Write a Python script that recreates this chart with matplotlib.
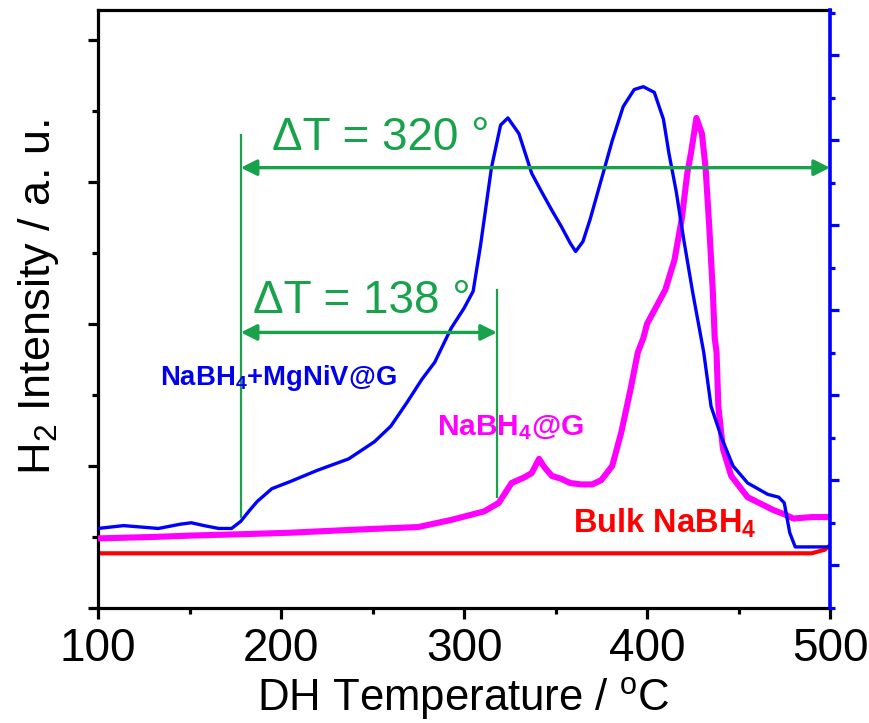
import matplotlib
matplotlib.use("Agg")
import matplotlib.pyplot as plt
from matplotlib.ticker import MultipleLocator, NullFormatter

plt.rcParams['font.family'] = ['Liberation Sans', 'DejaVu Sans']
plt.rcParams['mathtext.fontset'] = 'custom'
plt.rcParams['mathtext.rm'] = 'Liberation Sans'
plt.rcParams['mathtext.it'] = 'Liberation Sans:italic'
plt.rcParams['mathtext.bf'] = 'Liberation Sans:bold'
plt.rcParams['mathtext.default'] = 'regular'

# ---------------- data ----------------
blue_x = [100, 114, 133, 145, 151, 158, 166, 173, 178, 183, 187, 195, 205, 220, 237,
          251, 260, 269, 277, 284, 293, 300, 305, 309, 315, 320, 324, 330, 337, 342,
          348, 353, 358, 361, 365, 369, 376, 381, 387, 393, 398, 404, 409, 412, 416,
          420, 425, 431, 435, 441, 447, 455, 466, 472, 475, 478, 481, 490, 500]
blue_y = [0.56, 0.58, 0.56, 0.59, 0.60, 0.58, 0.56, 0.56, 0.61, 0.69, 0.75, 0.84, 0.89, 0.97, 1.05,
          1.17, 1.28, 1.45, 1.61, 1.73, 1.97, 2.11, 2.23, 2.55, 3.10, 3.40, 3.45, 3.34, 3.06, 2.94,
          2.80, 2.69, 2.57, 2.51, 2.58, 2.74, 3.06, 3.29, 3.53, 3.65, 3.67, 3.63, 3.44, 3.20, 2.93,
          2.60, 2.22, 1.80, 1.42, 1.19, 1.00, 0.88, 0.80, 0.78, 0.74, 0.53, 0.43, 0.43, 0.43]

mag_x = [100, 130, 151, 180, 205, 238, 275, 293, 311, 319, 326, 333, 337, 341, 344,
         348, 353, 358, 364, 370, 375, 381, 386, 391, 395, 398, 400, 405, 410, 415,
         419, 422, 424, 427, 430, 432, 434, 436, 437, 438, 439, 441.5, 446, 455, 469,
         475, 480, 490, 500]
mag_y = [0.49, 0.50, 0.51, 0.52, 0.53, 0.55, 0.57, 0.62, 0.68, 0.74, 0.88, 0.92, 0.95, 1.05, 0.99,
         0.93, 0.91, 0.88, 0.87, 0.87, 0.90, 1.00, 1.24, 1.54, 1.80, 1.90, 2.00, 2.12, 2.24, 2.45,
         2.74, 3.06, 3.20, 3.45, 3.34, 3.10, 2.69, 2.22, 1.90, 1.80, 1.42, 1.12, 0.93, 0.78, 0.69,
         0.66, 0.63, 0.64, 0.64]

red_x = [100, 490, 497, 500]
red_y = [0.385, 0.385, 0.41, 0.44]

x_ticks = [100, 200, 300, 400, 500]
onset_all = 178
onset_nabh4g = 318
end_all = 500

label_blue = "NaBH$_4$+MgNiV@G"
label_mag = "NaBH$_4$@G"
label_red = "Bulk NaBH$_4$"
dt_big = "ΔT = 320 °"
dt_small = "ΔT = 138 °"

# ---------------- figure ----------------
fig = plt.figure(figsize=(8.69, 7.23), dpi=100)
ax = fig.add_axes([98/869, (723-608)/723, 732/869, 598/723])

green = '#17a24b'
ax.plot(red_x, red_y, color='#ff0000', lw=3.0, zorder=2, solid_capstyle='butt')
ax.plot(mag_x, mag_y, color='#ff00ff', lw=4.4, zorder=3)
ax.plot(blue_x, blue_y, color='#0000ff', lw=2.4, zorder=4)

ax.set_xlim(100, 500)
ax.set_ylim(0, 4.21)

# green annotations
ax.plot([onset_all, onset_all], [0.64, 3.33], color=green, lw=1.6, zorder=5)
ax.plot([onset_nabh4g, onset_nabh4g], [0.78, 2.24], color=green, lw=1.6, zorder=5)
ax.annotate('', xy=(onset_all, 3.10), xytext=(end_all, 3.10),
            arrowprops=dict(arrowstyle='<|-|>', color=green, lw=2.4,
                            mutation_scale=24, shrinkA=0, shrinkB=0), zorder=6)
ax.annotate('', xy=(onset_all, 1.94), xytext=(onset_nabh4g, 1.94),
            arrowprops=dict(arrowstyle='<|-|>', color=green, lw=2.4,
                            mutation_scale=24, shrinkA=0, shrinkB=0), zorder=6)
ax.text(195, 3.225, dt_big, color=green, fontsize=33, va='baseline', ha='left', zorder=7)
ax.text(184.5, 2.08, dt_small, color=green, fontsize=33, va='baseline', ha='left', zorder=7)

ax.text(134, 1.57, label_blue, color='#0000ee', fontsize=19.8, fontweight='bold',
        va='baseline', ha='left', zorder=7)
ax.text(285.5, 1.22, label_mag, color='#ff00ff', fontsize=21.5, fontweight='bold',
        va='baseline', ha='left', zorder=7)
ax.text(359.5, 0.53, label_red, color='#ff0000', fontsize=23.5, fontweight='bold',
        va='baseline', ha='left', zorder=7)

# axes styling
for s in ['left', 'bottom', 'top']:
    ax.spines[s].set_linewidth(2.3)
    ax.spines[s].set_color('black')
ax.spines['right'].set_visible(False)

ax.set_xticks(x_ticks)
ax.xaxis.set_minor_locator(MultipleLocator(50))
ax.yaxis.set_major_locator(MultipleLocator(1))
ax.yaxis.set_minor_locator(MultipleLocator(0.5))
ax.yaxis.set_major_formatter(NullFormatter())
ax.tick_params(axis='x', which='major', direction='out', length=8, width=2.3,
               labelsize=33, pad=6, top=False)
ax.tick_params(axis='x', which='minor', direction='out', length=4, width=2.3, top=False)
ax.tick_params(axis='y', which='major', direction='out', length=7.5, width=2.3, right=False)
ax.tick_params(axis='y', which='minor', direction='out', length=4, width=2.3, right=False)

# right blue axis
ax2 = ax.twinx()
ax2.set_ylim(0, 14.07)
ax2.yaxis.set_major_locator(MultipleLocator(2, offset=1))
ax2.yaxis.set_minor_locator(MultipleLocator(2))
ax2.yaxis.set_major_formatter(NullFormatter())
for s in ['left', 'bottom', 'top']:
    ax2.spines[s].set_visible(False)
ax2.spines['right'].set_color('#0000ff')
ax2.spines['right'].set_linewidth(2.6)
ax2.tick_params(axis='y', which='major', direction='out', length=6.5, width=2.3,
                color='#0000ff', left=False)
ax2.tick_params(axis='y', which='minor', direction='out', length=3.5, width=2.3,
                color='#0000ff', left=False)

# axis labels
fig.text(463/869, (723-711)/723, "DH Temperature / $^{o}$C", fontsize=31.5,
         ha='center', va='baseline')
fig.text(50/869, (723-297)/723, "H$_2$ Intensity / a. u.", fontsize=32.5,
         rotation=90, rotation_mode='anchor', ha='center', va='baseline')

fig.savefig('out.png', dpi=100)
